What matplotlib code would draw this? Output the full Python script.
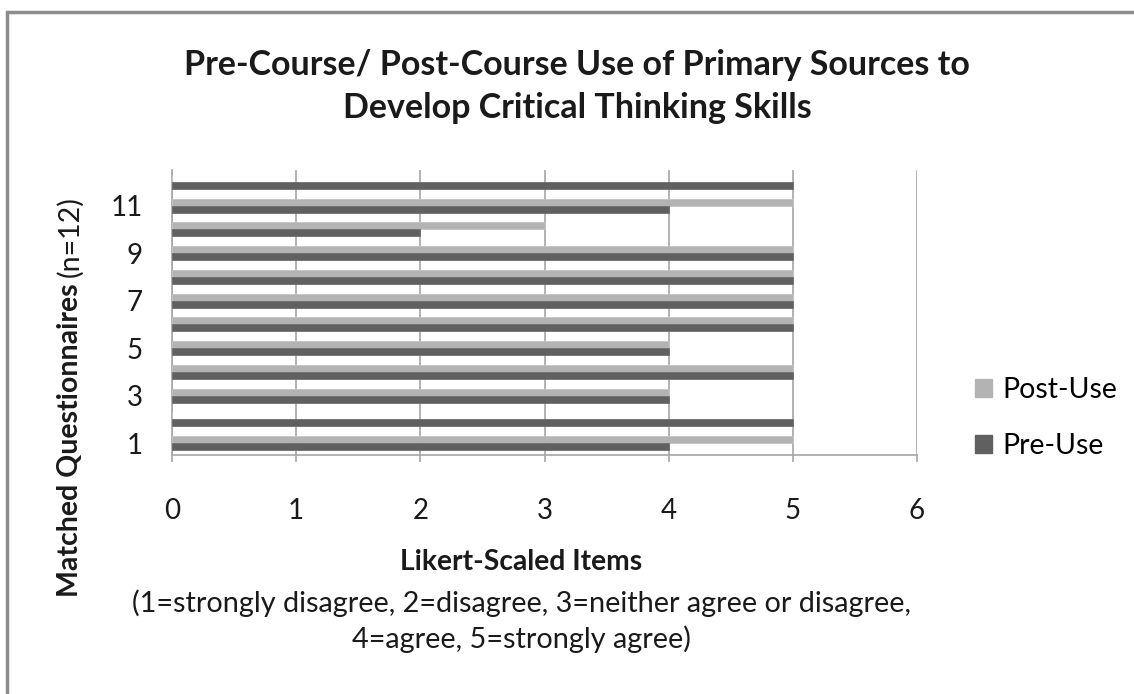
import matplotlib
matplotlib.use("Agg")
import matplotlib.pyplot as plt
import numpy as np
from matplotlib.patches import Rectangle

plt.rcParams['font.family'] = ['Lato', 'DejaVu Sans']

questionnaires = list(range(1, 13))
pre_use = [4, 5, 4, 5, 4, 5, 5, 5, 5, 2, 4, 5]
post_use = [5, 0, 4, 5, 4, 5, 5, 5, 5, 3, 5, 0]
tick_labels = ["1", "3", "5", "7", "9", "11"]

dark = '#606060'
light = '#b3b3b3'
grid_c = '#a6a6a6'
txt_c = '#1a1a1a'

W, H = 1134, 694
fig = plt.figure(figsize=(W / 100, H / 100), dpi=100)

def fx(px):
    return px / W

def fy(py):
    return 1 - py / H

# chart border
fig.patches.append(Rectangle((fx(7), -0.01), 1.02, fy(12) + 0.01,
                             transform=fig.transFigure, fill=False,
                             edgecolor='#8c8c8c', linewidth=2.5))

ax = fig.add_axes([fx(172), fy(455), fx(917) - fx(172), fy(170) - fy(455)])

y = np.array(questionnaires)
h = 0.29
ax.barh(y + h / 2, post_use, height=h, color=light, edgecolor='#c4c4c4', linewidth=0.6, zorder=3)
ax.barh(y - h / 2, pre_use, height=h, color=dark, edgecolor='#6e6e6e', linewidth=0.6, zorder=3)

ax.set_xlim(0, 6)
ax.set_ylim(0.5, 12.5)
ax.set_xticks(range(0, 7))
ax.set_yticks([1, 3, 5, 7, 9, 11])
ax.set_yticklabels(tick_labels)
ax.grid(axis='x', color=grid_c, linewidth=1.2, zorder=0)
for s in ['top', 'right']:
    ax.spines[s].set_visible(False)
for s in ['left', 'bottom']:
    ax.spines[s].set_color(grid_c)
    ax.spines[s].set_linewidth(1.2)
ax.tick_params(axis='x', length=5, width=1.2, color=grid_c, pad=26, labelsize=20, labelcolor=txt_c)
ax.tick_params(axis='y', length=0, pad=21, labelsize=20, labelcolor=txt_c)

fig.text(fx(577), fy(75), "Pre-Course/ Post-Course Use of Primary Sources to",
         ha='center', va='baseline', fontsize=24.5, fontweight='bold', color=txt_c)
fig.text(fx(577), fy(118), "Develop Critical Thinking Skills",
         ha='center', va='baseline', fontsize=24.5, fontweight='bold', color=txt_c)

fig.text(fx(521), fy(570), "Likert-Scaled Items", ha='center', va='baseline',
         fontsize=20.3, fontweight='bold', color=txt_c)
fig.text(fx(521), fy(612), "(1=strongly disagree, 2=disagree, 3=neither agree or disagree,",
         ha='center', va='baseline', fontsize=20.8, color=txt_c)
fig.text(fx(521), fy(648), "4=agree, 5=strongly agree)",
         ha='center', va='baseline', fontsize=20.8, color=txt_c)

# y label: bold part + normal part
fig.canvas.draw()
r = fig.canvas.get_renderer()
t1 = fig.text(fx(70), fy(597), "Matched Questionnaires", rotation=90,
              ha='center', va='bottom', fontsize=20.5, fontweight='bold', color=txt_c)
bb = t1.get_window_extent(r)
fig.text(fx(70), (bb.y1 + 6) / H, "(n=12)", rotation=90,
         ha='center', va='bottom', fontsize=20.5, color=txt_c)

# legend
handles = [Rectangle((0, 0), 1, 1, color=light), Rectangle((0, 0), 1, 1, color=dark)]
fig.legend(handles, ['Post-Use', 'Pre-Use'], loc='center left',
           bbox_to_anchor=(fx(975), fy(418)), frameon=False, fontsize=20.5,
           borderpad=0, borderaxespad=0,
           handlelength=0.6, handleheight=0.6, handletextpad=0.35, labelspacing=1.05)

fig.savefig('out.png', dpi=100)
